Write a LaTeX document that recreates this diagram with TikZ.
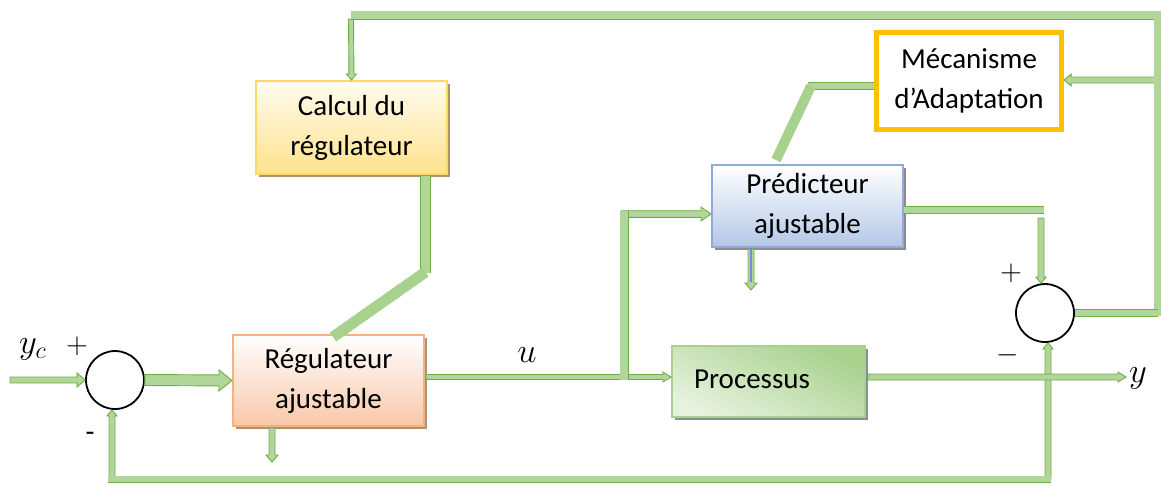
\documentclass[tikz,border=0pt]{standalone}
\usepackage{fontspec}
\setmainfont{Carlito}
\usetikzlibrary{calc,shadows}
\definecolor{gdark}{RGB}{112,173,71}
\definecolor{glight}{RGB}{169,209,142}
\definecolor{gpipe}{RGB}{178,214,154}
\definecolor{calcB}{RGB}{255,217,102}
\definecolor{calcT}{RGB}{255,252,240}
\definecolor{calcD}{RGB}{255,226,140}
\definecolor{reguB}{RGB}{244,177,131}
\definecolor{reguD}{RGB}{248,200,168}
\definecolor{predB}{RGB}{143,170,220}
\definecolor{predD}{RGB}{180,199,231}
\definecolor{procB}{RGB}{169,209,142}
\definecolor{procT}{RGB}{168,209,140}
\definecolor{procD}{RGB}{230,242,222}
\definecolor{mecaB}{RGB}{255,192,0}
\definecolor{shbrown}{RGB}{172,146,110}
\definecolor{shgray}{RGB}{140,140,145}
\newcommand\barrow[5]{%
  \filldraw[blockarrow] let \p1=(#1), \p2=(#2),
    \n1={atan2(\y2-\y1,\x2-\x1)},
    \n2={veclen(\x2-\x1,\y2-\y1)-#5*0.5} in
    ($(\p1)+(\n1+90:#3*0.5pt)$) --
    ($(\p1)+(\n1:\n2*1pt)+(\n1+90:#3*0.5pt)$) --
    ($(\p1)+(\n1:\n2*1pt)+(\n1+90:#4*0.5pt)$) --
    (\p2) --
    ($(\p1)+(\n1:\n2*1pt)+(\n1-90:#4*0.5pt)$) --
    ($(\p1)+(\n1:\n2*1pt)+(\n1-90:#3*0.5pt)$) --
    ($(\p1)+(\n1-90:#3*0.5pt)$) -- cycle;%
}
\begin{document}
\begin{tikzpicture}[x=0.5pt,y=-0.5pt,
  box/.style={rectangle, line width=1pt, align=center, inner sep=0pt,
    font=\fontsize{14.5}{20}\selectfont},
  sumc/.style={circle, draw=black, line width=0.9pt, fill=white,
    minimum size=29pt, inner sep=0pt},
  pipe/.style={draw=gdark, line width=0.45pt, double=gpipe,
    double distance=#1, line join=miter},
  bar/.style={draw=glight, line width=#1},
  lbl/.style={inner sep=0pt, font=\fontsize{14.5}{20}\selectfont},
  mlbl/.style={inner sep=0pt, font=\fontsize{16.5}{20}\selectfont},
  blockarrow/.style={fill=gpipe, draw=gdark, line width=0.45pt, line join=miter},
  brshadow/.style={general shadow={fill=#1, shadow xshift=1.6pt, shadow yshift=-1.6pt}}]
\useasboundingbox (0,0) rectangle (1161,484);

% ---- blocks ----
\node[box, brshadow=shbrown, draw=calcB, top color=calcT, bottom color=calcD,
  minimum width=95.5pt, minimum height=46.5pt] (calc) at (351.5,127.5)
  {Calcul du\\régulateur};
\node[box, draw=mecaB, line width=2.6pt, fill=white,
  minimum width=92.5pt, minimum height=48.5pt] (meca) at (969,81)
  {Mécanisme\\d’Adaptation};
\node[box, brshadow=shgray, draw=predB, top color=white, bottom color=predD,
  minimum width=95.5pt, minimum height=41pt] (pred) at (807.5,206)
  {Prédicteur\\ajustable};
\node[box, brshadow=shgray, draw=procB, top color=procT, bottom color=procD,
  shading angle=-25, minimum width=96.5pt, minimum height=35.5pt] (proc) at (768.5,381.5) {};
\node[lbl] (proctext) at (752,379) {Processus};
\node[box, brshadow=shbrown, draw=reguB, top color=white, bottom color=reguD,
  minimum width=95.5pt, minimum height=45.5pt] (regu) at (328.5,380.5)
  {Régulateur\\ajustable};

\node[sumc] (c1) at (115,380) {};
\node[sumc] (c2) at (1045,313) {};

% ---- coordinates ----
\coordinate (yin) at (10,380);
\coordinate (tl) at (351,15);
\coordinate (tr) at (1158,15);
\coordinate (rb) at (1158,316);
\coordinate (cdown) at (351,19);
\coordinate (ma) at (1155,80);
\coordinate (fbl) at (112,479);
\coordinate (fbr) at (1048,479);
\coordinate (rd1) at (272,428);
\coordinate (rd2) at (272,462);
\coordinate (uo) at (426,377);
\coordinate (uj) at (624,380);
\coordinate (ut) at (624,211);
\coordinate (ua) at (621,214);
\coordinate (pr1) at (904,210);
\coordinate (pr2) at (1044,210);
\coordinate (pr3) at (1041,218);
\coordinate (pd1) at (751,249);
\coordinate (pd2) at (751,290);
\coordinate (po) at (868,377);
\coordinate (yo) at (1126,377);
\coordinate (cp1) at (425.5,176);
\coordinate (cp2) at (425.5,273);
\coordinate (rg) at (333,337);
\coordinate (mp1) at (874,86);
\coordinate (mp2) at (808,86);
\coordinate (pg) at (776,160);

% ---- block arrows ----
\barrow{yin}{c1.west}{3}{7}{8}
\barrow{c1.east}{regu.west}{5.5}{10.5}{13}
\barrow{cdown}{calc.north}{2.5}{5}{6}
\barrow{ma}{meca.east |- ma}{3}{6}{7}
\barrow{rd1}{rd2}{3}{6}{7}
\barrow{fbl}{fbl |- c1.south}{3}{5}{6}
\barrow{fbr}{fbr |- c2.south}{3}{5}{6}
\barrow{uo}{proc.west |- uo}{2.5}{5}{8}
\barrow{ua}{pred.west |- ua}{3.3}{7}{10}
\barrow{pr3}{pr3 |- c2.north}{3}{5}{6}
\barrow{pd1}{pd2}{3}{6}{7}
\draw[predB!80!blue, line width=0.7pt] (pd1) -- ($(pd2)+(0,-8)$);
\barrow{po}{yo}{3}{5}{8}

% ---- pipes ----
\draw[pipe=3.6pt] (tl) -- (tr) -- (rb);
\draw[pipe=3.2pt] (c2.east) -- (c2.east -| rb);
\draw[pipe=2.6pt] ([xshift=-2pt]fbl) -- ([xshift=1.5pt]fbr);
\draw[pipe=3.6pt] (uj) -- (ut);
\draw[pipe=3.2pt] (pr1) -- (pr2);
\draw[pipe=4.2pt] (cp1) -- (cp2);
\draw[pipe=3.2pt] (mp1) -- (mp2);
\draw[bar=5.5pt] ($(cp2)+(0,-1)$) -- (rg);
\draw[bar=5pt] ($(mp2)+(3,0)$) -- (pg);

% ---- labels ----
\node[mlbl] (lyc) at (33,349) {$y_c$};
\node[lbl] (lp1) at (77,346) {$+$};
\node[lbl] (lm1) at (90,437) {-};
\node[mlbl] (lu) at (527,355) {$u$};
\node[lbl] (lp2) at (1011,273) {$+$};
\node[lbl] (lm2) at (1008,355) {$-$};
\node[mlbl] (ly) at (1138,378) {$y$};
\end{tikzpicture}
\end{document}
